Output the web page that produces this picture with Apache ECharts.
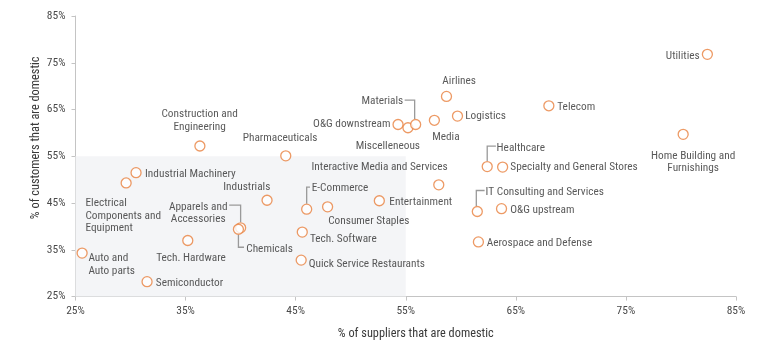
<!DOCTYPE html>
<html>
<head>
<meta charset="utf-8">
<script src="https://cdn.jsdelivr.net/npm/echarts@6/dist/echarts.min.js"></script>
<style>html,body{margin:0;padding:0;background:#fff;}#c{width:768px;height:347px;}</style>
</head>
<body>
<div id="c"></div>
<script>
// ---- data ----
var sectors = ['Auto and Auto parts','Semiconductor','Tech. Hardware','Electrical Components and Equipment','Industrial Machinery',
  'Apparels and Accessories','Chemicals','Industrials','E-Commerce','Consumer Staples','Tech. Software','Quick Service Restaurants',
  'Entertainment','Interactive Media and Services','Pharmaceuticals','Construction and Engineering','O&G downstream','Miscelleneous',
  'Materials','Media','Airlines','Logistics','Utilities','Telecom','Home Building and Furnishings','Healthcare',
  'Specialty and General Stores','IT Consulting and Services','O&G upstream','Aerospace and Defense'];
var suppliersDomestic = [25.6,31.5,35.2,29.6,30.5,40.0,39.8,42.4,46.0,47.9,45.6,45.5,52.6,58.0,44.1,36.3,54.3,55.2,55.9,57.6,58.7,59.7,82.4,68.0,80.2,62.4,63.8,61.5,63.7,61.6];
var customersDomestic = [34.3,28.2,37.0,49.3,51.5,39.7,39.4,45.6,43.7,44.2,38.8,32.8,45.5,48.9,55.1,57.2,61.8,61.1,61.8,62.7,67.8,63.6,76.8,65.8,59.7,52.8,52.7,43.2,43.8,36.7];
var axisTicks = [25, 35, 45, 55, 65, 75, 85];
var shadedRange = [25, 55];

// ---- label layout (pixel offsets from point centre) ----
var FONT = "'Roboto Condensed', 'Open Sans Condensed', sans-serif";
var TEXT_SHIFT = 1.5;
var layout = {
  'Auto and Auto parts': {dx:6.3, dy:9.7, align:'left', text:'Auto and\nAuto parts'},
  'Semiconductor': {dx:8.8, dy:0, align:'left'},
  'Tech. Hardware': {dx:3.2, dy:16.6, align:'center'},
  'Electrical Components and Equipment': {dx:-40.7, dy:31.4, align:'left', text:'Electrical\nComponents and\nEquipment'},
  'Industrial Machinery': {dx:9, dy:0, align:'left'},
  'Apparels and Accessories': {dx:-42.4, dy:-16.2, align:'center', text:'Apparels and\nAccessories', leader:[[0,-5.5],[0,-22.7],[-11.4,-22.7]]},
  'Chemicals': {dx:7.8, dy:18, align:'left', leader:[[0,5.5],[0,18],[5.6,18]]},
  'Industrials': {dx:3.3, dy:-14.3, align:'right'},
  'E-Commerce': {dx:5, dy:-22, align:'left', leader:[[0,-5.5],[0,-22],[3.3,-22]]},
  'Consumer Staples': {dx:0.6, dy:13.3, align:'left'},
  'Tech. Software': {dx:7.7, dy:5.3, align:'left'},
  'Quick Service Restaurants': {dx:7.6, dy:2.3, align:'left'},
  'Entertainment': {dx:10, dy:0.3, align:'left'},
  'Interactive Media and Services': {dx:9, dy:-19.4, align:'right'},
  'Pharmaceuticals': {dx:31.7, dy:-18.7, align:'right'},
  'Construction and Engineering': {dx:-0.3, dy:-26.7, align:'center', text:'Construction and\nEngineering'},
  'O&G downstream': {dx:-7.6, dy:-1.7, align:'right'},
  'Miscelleneous': {dx:-20.1, dy:17.3, align:'center'},
  'Materials': {dx:-12.4, dy:-24.4, align:'right', leader:[[-1,-5.5],[-1,-24.4],[-11,-24.4]]},
  'Media': {dx:11.5, dy:15, align:'center'},
  'Airlines': {dx:12.7, dy:-16.3, align:'center'},
  'Logistics': {dx:7.7, dy:-1, align:'left'},
  'Utilities': {dx:-7.7, dy:0, align:'right'},
  'Telecom': {dx:8.4, dy:-0.4, align:'left'},
  'Home Building and Furnishings': {dx:10, dy:26.4, align:'center', text:'Home Building and\nFurnishings'},
  'Healthcare': {dx:9.4, dy:-20.4, align:'left', leader:[[0,-5.5],[0,-20.4],[8.7,-20.4]]},
  'Specialty and General Stores': {dx:7.7, dy:-1, align:'left'},
  'IT Consulting and Services': {dx:8.3, dy:-21, align:'left', leader:[[-1,-5.5],[-1,-21],[7.3,-21]]},
  'O&G upstream': {dx:8.7, dy:-0.4, align:'left'},
  'Aerospace and Defense': {dx:8.3, dy:0, align:'left'}
};

var points = sectors.map(function (name, i) {
  var L = layout[name] || {dx:8, dy:0, align:'left'};
  return {
    name: name,
    value: [suppliersDomestic[i], customersDomestic[i]],
    label: {
      show: true, position: 'inside', offset: [L.dx, L.dy + TEXT_SHIFT], align: L.align, verticalAlign: 'middle',
      formatter: L.text || name
    }
  };
});
var leaderIdx = [];
sectors.forEach(function (n, i) { if (layout[n] && layout[n].leader) leaderIdx.push([suppliersDomestic[i], customersDomestic[i], i]); });

var chart = echarts.init(document.getElementById('c'), null, {renderer: 'canvas'});
var axisCommon = {
  type: 'value', min: axisTicks[0], max: axisTicks[axisTicks.length - 1], interval: axisTicks[1] - axisTicks[0],
  splitLine: {show: false},
  axisLine: {show: true, lineStyle: {color: '#c4c4c4', width: 1}},
  axisTick: {show: true, length: 4, lineStyle: {color: '#c4c4c4'}},
  axisLabel: {formatter: '{value}%', color: '#4a4a4a', fontSize: 11.5, fontFamily: FONT},
  nameLocation: 'middle',
  nameMoveOverlap: false
};
chart.setOption({
  animation: false,
  backgroundColor: '#fff',
  grid: {left: 75.5, right: 32, top: 16, bottom: 50.4, containLabel: false},
  xAxis: Object.assign({}, axisCommon, {name: '% of suppliers that are domestic', nameGap: 31,
    nameTextStyle: {color: '#3a3a3a', fontSize: 12.3, fontFamily: FONT, padding: [0, 0, 0, 20]},
    axisLabel: Object.assign({}, axisCommon.axisLabel, {margin: 9})}),
  yAxis: Object.assign({}, axisCommon, {name: '% of customers that are domestic', nameGap: 34,
    nameTextStyle: {color: '#3a3a3a', fontSize: 12.3, fontFamily: FONT, padding: [0, 0, 0, 37]},
    axisLabel: Object.assign({}, axisCommon.axisLabel, {margin: 10})}),
  series: [
    {
      type: 'custom', silent: true, z: 1,
      data: leaderIdx,
      renderItem: function (params, api) {
        var c = api.coord([api.value(0), api.value(1)]);
        var L = layout[sectors[api.value(2)]].leader;
        return {type: 'polyline', shape: {points: L.map(function (p) { return [c[0] + p[0], c[1] + p[1]]; })},
          style: {stroke: '#9a9a9a', lineWidth: 1.3, fill: null}};
      }
    },
    {
      type: 'scatter', z: 3,
      symbol: 'circle', symbolSize: 10,
      itemStyle: {color: '#fff', borderColor: '#e8813f', borderWidth: 1.3},
      label: {color: '#2f2f2f', fontSize: 11.3, fontFamily: FONT, lineHeight: 12.8},
      emphasis: {disabled: true},
      data: points,
      markArea: {
        silent: true,
        itemStyle: {color: '#f4f5f7'},
        data: [[{coord: [shadedRange[0], shadedRange[0]]}, {coord: [shadedRange[1], shadedRange[1]]}]]
      }
    }
  ]
});
</script>
</body>
</html>
